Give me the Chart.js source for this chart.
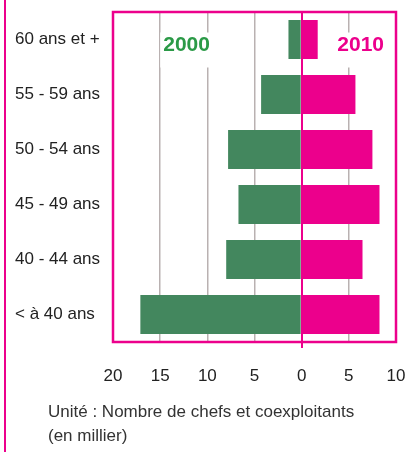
<!DOCTYPE html>
<html>
<head>
<meta charset="utf-8">
<script src="https://cdn.jsdelivr.net/npm/chart.js@4"></script>
<style>
  html, body { margin: 0; padding: 0; background: #fff; }
  #wrap { position: relative; width: 408px; height: 452px; overflow: hidden; }
  #bord { position: absolute; left: 4px; top: 0; width: 2px; height: 452px; background: #ec008c; }
  #note { position: absolute; left: 48px; top: 400px; font-family: 'Liberation Sans', Arial, sans-serif;
          font-size: 17px; line-height: 24px; color: #333; }
</style>
</head>
<body>
<div id="wrap">
  <canvas id="pyramide" width="408" height="452"></canvas>
  <div id="bord"></div>
  <div id="note">Unité : Nombre de chefs et coexploitants<br>(en millier)</div>
</div>
<script>
const ages = ["60 ans et +", "55 - 59 ans", "50 - 54 ans", "45 - 49 ans", "40 - 44 ans", "< à 40 ans"];
const annees = ["2000", "2010"];
const valeurs2000 = [1.4, 4.3, 7.8, 6.7, 8.0, 17.1];
const valeurs2010 = [1.7, 5.7, 7.5, 8.25, 6.45, 8.25];
const ticksX = [-20, -15, -10, -5, 0, 5, 10];

const ROSE = "#ec008c";
const VERT = "#43875e";
const police = "'Liberation Sans', Arial, sans-serif";

// cadre rose + libellés des années
const cadre = {
  id: "cadre",
  beforeDatasetsDraw(chart) {
    const { ctx, scales } = chart;
    const y0 = scales.y.getPixelForValue(0) + 6;
    const items = [
      { txt: annees[0], x: scales.x.getPixelForValue(-12.2), col: "#2b9a47" },
      { txt: annees[1], x: scales.x.getPixelForValue(6.25), col: ROSE },
    ];
    ctx.save();
    ctx.font = "bold 21px " + police;
    ctx.textAlign = "center";
    ctx.textBaseline = "middle";
    items.forEach(it => {
      const w = ctx.measureText(it.txt).width;
      ctx.fillStyle = "#fff";
      ctx.fillRect(it.x - w / 2 - 3, y0 - 13, w + 6, 35);
      ctx.fillStyle = it.col;
      ctx.fillText(it.txt, it.x, y0);
    });
    ctx.restore();
  },
  afterDraw(chart) {
    const { ctx, chartArea: a } = chart;
    ctx.save();
    ctx.strokeStyle = ROSE;
    ctx.lineWidth = 2.5;
    ctx.strokeRect(a.left, a.top, a.right - a.left, a.bottom - a.top);
    ctx.restore();
  },
};

new Chart(document.getElementById("pyramide"), {
  type: "bar",
  data: {
    labels: ages,
    datasets: [
      {
        label: annees[0],
        data: valeurs2000.map(v => -v),
        backgroundColor: VERT,
        barPercentage: 0.71,
        categoryPercentage: 1,
      },
      {
        label: annees[1],
        data: valeurs2010,
        backgroundColor: ROSE,
        barPercentage: 0.71,
        categoryPercentage: 1,
      },
    ],
  },
  options: {
    indexAxis: "y",
    responsive: false,
    animation: false,
    layout: { padding: { left: 15, top: 12, right: 12, bottom: 0 } },
    plugins: { legend: { display: false }, tooltip: { enabled: false } },
    scales: {
      x: {
        stacked: true,
        min: -20,
        max: 10,
        afterBuildTicks: (s) => { s.ticks = ticksX.map(v => ({ value: v })); },
        afterFit: (s) => { s.height = 110; s.paddingLeft = 0; s.paddingRight = 0; },
        border: { display: false },
        grid: {
          color: (c) => c.tick && c.tick.value === 0 ? ROSE : "#b9b1b1",
          lineWidth: (c) => c.tick && c.tick.value === 0 ? 2 : 1.5,
          drawTicks: true,
          tickLength: 6,
          tickColor: (c) => c.tick && c.tick.value === 0 ? ROSE : "rgba(0,0,0,0)",
        },
        ticks: {
          padding: 18,
          maxRotation: 0,
          autoSkip: false,
          color: "#222",
          font: { family: police, size: 17 },
          callback: (v) => Math.abs(v),
        },
      },
      y: {
        stacked: true,
        afterFit: (s) => { s.width = 98; s.paddingTop = 0; s.paddingBottom = 0; },
        border: { display: false },
        grid: { display: false },
        ticks: {
          crossAlign: "far",
          color: "#222",
          font: { family: police, size: 17 },
        },
      },
    },
  },
  plugins: [cadre],
});
</script>
</body>
</html>
